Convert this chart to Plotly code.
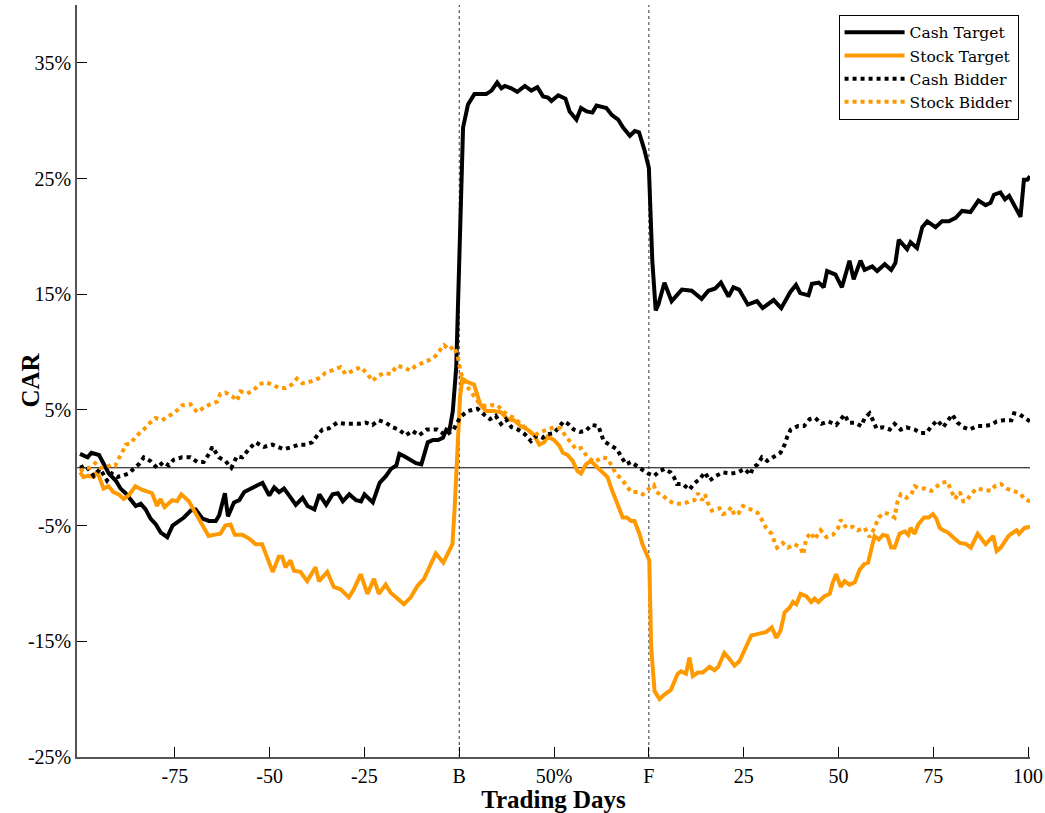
import plotly.graph_objects as go

# ---------------- data ----------------
# x positions: -100..0 = trading days before bid (B), 0..50 = 0..100% of
# time between bid and completion (F), 50..150 = 0..100 trading days after F
cash_target_day = [-100, -98, -97, -95, -93.7, -92.4, -90.6, -89.3, -88, -86.2, -85.3, -84, -82.7, -81.4,
                   -80, -78.7, -77, -75.6, -74.3, -72.6, -70.8, -69.5, -67.7, -66, -64.2, -63.3, -61.8, -61,
                   -59.4, -58, -56.7, -55, -53.2, -51.9, -50.1, -48.8, -47.5, -46.2, -44.4, -43.1, -41.3, -40,
                   -38.2, -36.9, -35.1, -33.4, -32, -30.7, -29, -27.2, -25.9, -25, -22.8, -21, -19.3, -18,
                   -16.6, -15.8, -14.5, -13.1, -11.4, -10, -8.3, -6.9, -5.6, -4.3, -3.4, -2.6, -1.7, -0.8,
                   0.3, 1.0, 2.3, 4, 7.1, 8.5, 10, 11.1, 12, 13.7, 15.3, 17.3, 19, 20.6, 22.1, 23.4, 24.3,
                   26.1, 28, 29.1, 30.9, 32.1, 33.6, 35.1, 36.2, 38.8, 40.2, 41.9, 43.2, 45, 46.3, 47.4, 48.8,
                   50, 50.9, 51.8, 52.5, 54.1, 56, 58.7, 61.3, 63.9, 65.7, 67.5, 69, 71, 72.3, 73.8, 76.1,
                   78.5, 80, 82.9, 84.9, 87.3, 88.8, 89.9, 92.1, 93, 94.8, 96.1, 97, 99.2, 100.9, 102.9, 104,
                   105.8, 106.9, 108.9, 110.2, 112.2, 113.9, 115, 115.9, 118.1, 119, 120.7, 122.1, 123.4,
                   125.6, 127.3, 129.1, 130.9, 132.6, 134.8, 136.9, 138.8, 140.1, 141, 142.7, 143.9, 145, 148,
                   148.9, 149.8, 150.5]
cash_target_car = [1.2, 0.9, 1.3, 1.1, 0.3, -0.5, -1.1, -1.8, -2.2, -2.9, -3.3, -3.1, -3.6, -4.4,
                   -4.9, -5.6, -6.0, -5.0, -4.7, -4.3, -3.7, -3.6, -4.4, -4.6, -4.6, -4.1, -2.2, -4.2,
                   -3.0, -2.8, -2.1, -1.8, -1.5, -1.3, -2.4, -1.7, -2.1, -1.8, -2.6, -3.2, -2.6, -3.3,
                   -3.6, -2.3, -3.2, -2.3, -2.2, -2.9, -2.3, -2.8, -2.9, -2.3, -3.0, -1.3, -0.7, -0.1,
                   0.2, 1.2, 1.0, 0.7, 0.4, 0.3, 2.2, 2.4, 2.4, 2.6, 3.3, 3.2, 4.9, 8.7,
                   23.0, 29.4, 31.4, 32.3, 32.3, 32.6, 33.3, 32.8, 33.0, 32.8, 32.5, 33.0, 32.6, 32.9, 32.1, 32.0, 31.7,
                   32.2, 31.9, 30.8, 30.1, 31.1, 30.8, 30.7, 31.3, 31.1, 30.5, 30.1, 29.4, 28.7, 29.1, 29.0, 27.5,
                   25.9, 17.9, 13.6, 14.1, 16.0, 14.4, 15.4, 15.3, 14.6, 15.3, 15.5, 16.0, 14.8, 15.6, 15.4, 14.1,
                   14.4, 13.8, 14.5, 13.8, 15.2, 15.8, 15.1, 14.9, 15.9, 16.0, 15.6, 17.0, 16.7, 15.6, 17.9, 16.3,
                   17.9, 17.1, 17.4, 17.0, 17.6, 17.1, 17.7, 19.7, 18.9, 19.5, 19.0, 20.8, 21.3,
                   20.8, 21.3, 21.3, 21.6, 22.2, 22.1, 23.1, 22.7, 22.9, 23.6, 23.8, 23.2, 23.5, 21.7,
                   24.9, 24.9, 25.2]

stock_target_day = [-100, -99.1, -97.8, -96.4, -95.5, -93.8, -92.5, -91.2, -89.8, -88.5, -87.2, -85.4, -83.7,
                    -81, -79.7, -78.8, -77.7, -75.7, -74.4, -73.3, -71.3, -69.6, -67.8, -66.1, -64.7, -63,
                    -61.7, -60.3, -59.2, -57.2, -55.5, -53.7, -52, -50.6, -49.2, -47.6, -46.7, -45.8, -44.5,
                    -43.6, -41.9, -40.1, -37.9, -37, -34.8, -33.1, -31.3, -29.1, -27.8, -26, -24.2, -22.5,
                    -21.2, -19.4, -18.1, -16.3, -14.6, -12.8, -11, -9.3, -7.5, -6.2, -4.2, -1.8, -1.2, -0.6,
                    0.2, 0.8, 2.2, 3.9, 5.5, 7, 9.2, 11, 12.7, 14.5, 16.2, 18, 19.8, 21.1, 22.4, 23.3, 25,
                    26.4, 27.3, 28.6, 29.9, 31.2, 32.1, 33.4, 34.7, 36.5, 38.2, 39.1, 40, 41.3, 43.1, 44.2,
                    45.3, 46.2, 47.5, 48.4, 49.7, 50.1, 50.6, 51.5, 52.8, 54.1, 55.8, 57.6, 58.5, 59.8, 60.7,
                    61.6, 62.9, 64.2, 66, 67.3, 68.3, 69.9, 71.2, 72.6, 73.9, 75.2, 77, 78.3, 79.6, 80.9,
                    82.4, 83.6, 84.7, 85.8, 87.1, 88, 88.9, 90, 91.5, 92.8, 93.7, 94.7, 96.3, 97.7, 98.5,
                    99.4, 100.6, 101.6, 102.9, 104.3, 105.6, 106.9, 107.8, 108.7, 109.5, 110.6, 111.7, 112.9,
                    113.9, 114.8, 116.1, 117.5, 118.4, 119, 120.1, 121, 122.6, 123.8, 124.9, 125.8, 126.7,
                    127.6, 128.9, 130.2, 132, 133.7, 134.9, 136.7, 138.8, 140.8, 141.7, 142.8, 144.8, 145.6,
                    147, 147.6, 149.1, 150.5]
stock_target_car = [-0.4, -0.8, -0.7, -0.8, -0.3, -1.8, -1.6, -2.1, -2.3, -2.7, -2.4, -1.6, -1.9,
                    -2.2, -3.3, -2.7, -3.4, -2.8, -2.9, -2.3, -2.9, -3.9, -4.9, -5.9, -5.8, -5.7,
                    -5.0, -4.9, -5.8, -5.8, -6.1, -6.6, -6.6, -7.7, -9.0, -7.7, -7.7, -8.6, -8.0,
                    -8.9, -9.0, -9.8, -8.6, -9.8, -9.0, -10.3, -10.5, -11.2, -10.5, -9.2, -10.9, -9.6,
                    -10.9, -10.1, -10.8, -11.3, -11.8, -11.2, -10.2, -9.6, -8.2, -7.4, -8.2, -6.6, -3.4, 0.6,
                    6.1, 7.7, 7.4, 7.2, 5.5, 4.9, 4.9, 4.8, 4.2, 4.1, 3.6, 3.3, 2.8, 2.0, 2.2, 2.7, 2.4,
                    1.9, 1.3, 1.1, 0.6, -0.3, -0.5, 0.3, 0.6, 0.0, -0.5, -0.8, -1.7, -2.7, -4.3, -4.3,
                    -4.6, -4.6, -5.7, -6.7, -7.7, -8.0, -15.5, -19.3, -20.0, -19.6, -19.2, -17.8, -17.6, -17.8, -16.4,
                    -18.0, -17.7, -17.7, -17.2, -17.5, -17.2, -16.0, -16.5, -17.1, -16.7, -15.7, -14.5, -14.4, -14.3, -14.2,
                    -13.8, -14.7, -14.1, -12.5, -12.1, -11.6, -11.8, -10.9, -11.1, -11.6, -11.3, -11.6, -11.1, -10.9, -9.9,
                    -9.2, -10.3, -9.8, -10.1, -9.9, -8.8, -8.3, -8.2, -6.9, -5.9, -6.2, -5.8, -5.9,
                    -6.9, -6.9, -5.7, -5.5, -5.8, -5.2, -5.7, -4.9, -4.3, -4.3, -4.0, -4.4, -5.2,
                    -5.4, -5.6, -6.0, -6.5, -6.6, -6.9, -5.7, -6.6, -5.9, -7.2, -6.9, -5.9, -5.7,
                    -5.4, -5.7, -5.2, -5.1]

cash_bidder_day = [-100, -98.6, -97.3, -96.4, -94.7, -92.9, -91.6, -90.2, -88.9, -87.2, -85.9, -84.5, -83.2,
                   -81.5, -79.7, -78, -76.6, -75.3, -73.1, -70.9, -69.1, -67.4, -66, -65.1, -63.4, -61.7,
                   -60.1, -58.6, -57.2, -55.5, -53.7, -51.5, -49.3, -46.3, -44, -42.3, -40.5, -38.8, -37.4,
                   -36.1, -34.4, -32.2, -30, -28.2, -26.5, -24.7, -22.9, -21.2, -19.4, -17.6, -15.9, -14.1,
                   -12.4, -10.6, -8.6, -7.1, -5.8, -3.6, -1.5, 0.3, 2.2, 3.5, 4.8, 6.5, 8.1, 9.6, 11,
                   12.3, 13.8, 15.5, 17.3, 18.9, 20.5, 22, 23.3, 25, 26.4, 27.5, 28.7, 30.2, 31.9, 33.4,
                   34.9, 36.7, 38.1, 40, 41.6, 42.8, 44, 45.3, 46.9, 48.4, 49.8, 51.4, 52.8, 54.1, 55.7,
                   56.6, 57.4, 58.9, 60.7, 61.8, 63.3, 64.8, 66, 67.7, 69.5, 71.7, 73.5, 75.2, 76.8, 77.4,
                   78.7, 79.8, 81.2, 83, 84.7, 85.8, 86.5, 87.4, 89.3, 90.9, 92.4, 93.9, 95.5, 97.4, 99.4,
                   101.6, 102.7, 104.3, 106, 106.9, 108.2, 109.1, 110, 111.7, 113.5, 114.8, 116.4, 117.9,
                   120.1, 121.7, 123.2, 124.5, 126.1, 127.6, 128.9, 130, 131.4, 132.9, 134.6, 136.4, 138.2,
                   140.2, 141.7, 143.4, 145.6, 146.3, 147.8, 149.6, 150.5]
cash_bidder_car = [0.0, 0.2, -0.3, -0.7, -0.1, -1.1, -0.5, -0.8, -0.7, -0.5, -0.1, 0.3, 0.9,
                   0.6, 0.0, 0.5, 0.2, 0.7, 0.9, 0.9, 0.5, 0.5, 1.2, 1.8, 0.9, 0.6,
                   0.0, 1.0, 0.9, 1.6, 2.2, 1.8, 2.0, 1.6, 1.8, 2.0, 2.0, 2.2, 2.8,
                   3.3, 3.4, 3.9, 3.8, 3.8, 3.8, 3.9, 3.7, 4.1, 3.9, 3.5, 3.3, 2.8,
                   3.2, 2.8, 3.3, 3.3, 3.3, 2.8, 3.3, 4.4, 4.9, 5.0, 5.1, 4.6, 4.2, 4.5, 3.8,
                   4.2, 3.5, 3.3, 2.9, 2.3, 2.8, 2.6, 2.9, 3.0, 3.5, 4.0, 3.8, 3.3, 3.1, 3.2,
                   3.7, 3.6, 2.3, 1.9, 1.6, 0.9, 0.3, 0.5, 0.1, -0.2, -0.5, -0.7, -0.3, -0.1, -0.4,
                   -0.8, -1.4, -1.4, -1.9, -1.4, -1.0, -0.4, -1.1, -0.7, -0.4, -0.5, -0.4, -0.1, -0.6, 0.0,
                   0.3, 0.9, 0.6, 1.0, 1.3, 2.0, 2.7, 3.3, 3.6, 3.6, 4.2, 4.3, 3.8, 4.0, 3.7,
                   4.6, 3.9, 3.9, 3.6, 4.3, 4.7, 4.1, 3.4, 3.5, 3.3, 3.8, 3.3, 3.5,
                   3.3, 3.0, 3.0, 3.6, 4.1, 3.5, 4.1, 4.6, 3.9, 3.5, 3.3, 3.6, 3.6,
                   3.7, 4.0, 4.1, 4.1, 4.7, 4.6, 4.2, 4.0]

stock_bidder_day = [-100, -98.6, -97.3, -96, -94.7, -93.4, -91.6, -90.7, -89.8, -88.9, -88, -86.7, -85,
                    -83.2, -81.5, -80.1, -78.4, -76.6, -74.9, -73.1, -70.9, -69.1, -67.4, -65.6, -63.9, -63,
                    -61.7, -59.9, -58.6, -57.7, -56, -54.2, -52.9, -51.1, -49.3, -47.6, -45.8, -44.1, -42.8,
                    -41.4, -39.7, -37.9, -36.6, -35.3, -33.5, -31.3, -30, -28.2, -26, -24.2, -22.9, -21.6,
                    -19.9, -18.1, -16.5, -14.7, -13, -11.5, -9.7, -8, -6.7, -5.3, -4, -2.7, -1.4, -0.5, 0.4,
                    1.7, 3, 3.9, 5.2, 7, 8.3, 10.1, 11.4, 12.7, 14.5, 16.2, 18, 19.8, 21.5, 23.3, 25, 26.8,
                    28.1, 29.4, 30.8, 32.1, 33.9, 35.6, 37.8, 39.1, 40, 41.3, 43.1, 44.4, 45.3, 47.1, 48.4,
                    50.1, 51.3, 51.9, 53.7, 55, 56.7, 58.9, 60.7, 62, 62.9, 64, 64.8, 65.5, 66.6, 68.6, 69.5,
                    70.6, 71.7, 72.6, 73.7, 74.8, 76.8, 78.7, 79.8, 80.9, 82.3, 83.1, 83.8, 85.3, 86.7, 88.4,
                    90, 90.7, 91.5, 92.8, 93.7, 95.3, 96.8, 98.5, 99.9, 100.6, 102.1, 103.8, 105.1, 106.9,
                    108.2, 109.5, 110.6, 112, 113.5, 114.8, 115.5, 116.4, 117.9, 119.2, 120.1, 121.4, 122.7,
                    124.5, 125.8, 127.1, 128.7, 129.6, 130.7, 132, 132.9, 133.7, 134.9, 136.4, 138.2, 140.2,
                    141.2, 142.8, 144.3, 146.1, 147.8, 149.1, 150.5]
stock_bidder_car = [-0.3, 0.0, 0.0, 0.4, 0.0, 0.0, 0.3, 0.2, 0.8, 1.3, 2.0, 2.1, 2.8,
                    3.3, 3.9, 4.3, 4.1, 4.5, 4.8, 5.4, 5.5, 4.8, 5.2, 5.5, 5.7, 6.4,
                    6.5, 6.2, 5.8, 6.6, 6.4, 6.7, 7.2, 7.4, 7.2, 6.9, 6.9, 7.2, 7.7,
                    7.3, 7.4, 7.6, 7.8, 8.2, 8.4, 8.7, 8.1, 8.4, 8.7, 8.1, 7.5, 7.9,
                    8.2, 8.1, 8.8, 8.7, 8.4, 8.8, 9.1, 9.3, 9.5, 10.1, 10.6, 10.2, 10.5, 9.8, 8.2,
                    7.2, 6.6, 6.1, 5.6, 5.3, 5.4, 5.4, 4.9, 4.6, 4.3, 3.8, 3.3, 2.8, 3.1, 3.3, 3.5, 3.4,
                    2.7, 2.2, 1.6, 1.7, 0.9, 0.5, 0.9, 0.8, 0.2, -0.5, -1.1, -1.7, -2.1, -2.1, -2.3,
                    -1.8, -1.5, -2.1, -2.4, -2.8, -3.1, -3.1, -2.9, -2.8, -2.2, -2.8, -2.3, -3.0, -3.7, -3.5, -4.0,
                    -3.9, -3.4, -4.1, -3.9, -3.3, -3.6, -3.9, -4.5, -5.2, -5.7, -6.4, -6.9, -6.5, -6.9, -6.6,
                    -6.9, -7.5, -6.1, -5.6, -6.2, -5.4, -6.0, -5.8, -5.2, -4.5, -5.2, -5.1, -5.4, -5.2,
                    -6.0, -5.2, -4.3, -3.9, -4.0, -4.3, -3.0, -2.3, -2.6, -2.3, -1.6, -1.8, -1.8,
                    -2.0, -1.6, -1.3, -1.2, -1.9, -2.7, -2.1, -2.9, -2.9, -2.3, -1.8, -1.9, -2.0,
                    -1.6, -1.4, -1.8, -2.0, -2.2, -2.7, -2.9]

tick_pos = [-75, -50, -25, 0, 25, 50, 75, 100, 125, 150]
tick_labels = ["-75", "-50", "-25", "B", "50%", "F", "25", "50", "75", "100"]
y_ticks = [-25, -15, -5, 5, 15, 25, 35]
y_labels = ["-25%", "-15%", "-5%", "5%", "15%", "25%", "35%"]

ORANGE = "#FF9900"
FONT = "Liberation Serif"

fig = go.Figure()
fig.add_trace(go.Scatter(x=cash_target_day, y=cash_target_car, mode="lines", name="Cash Target",
                         line=dict(color="black", width=4)))
fig.add_trace(go.Scatter(x=stock_target_day, y=stock_target_car, mode="lines", name="Stock Target",
                         line=dict(color=ORANGE, width=4)))
fig.add_trace(go.Scatter(x=cash_bidder_day, y=cash_bidder_car, mode="lines", name="Cash Bidder",
                         line=dict(color="black", width=4, dash="dot")))
fig.add_trace(go.Scatter(x=stock_bidder_day, y=stock_bidder_car, mode="lines", name="Stock Bidder",
                         line=dict(color=ORANGE, width=4, dash="dot")))

# zero line and event markers (B, F)
fig.add_shape(type="line", xref="paper", x0=0, x1=1, yref="y", y0=0, y1=0,
              line=dict(color="black", width=1), layer="below")
for xv in (0, 50):
    fig.add_shape(type="line", xref="x", x0=xv, x1=xv, yref="paper", y0=0, y1=1,
                  line=dict(color="#333333", width=1, dash="dot"), layer="below")

# y-axis title placed as an annotation (closer to the axis than a standoff allows)
fig.add_annotation(text="<b>CAR</b>", xref="paper", yref="paper", x=-0.049, y=0.501,
                   textangle=-90, showarrow=False, xanchor="center", yanchor="middle",
                   font=dict(family=FONT, size=25, color="black"))

fig.update_layout(
    width=1045, height=813,
    margin=dict(l=77, r=15, t=5, b=56, autoexpand=False),
    paper_bgcolor="white", plot_bgcolor="white",
    font=dict(family=FONT, size=19, color="black"),
    showlegend=True,
    legend=dict(x=0.988, y=0.987, xanchor="right", yanchor="top",
                bgcolor="white", bordercolor="black", borderwidth=1,
                font=dict(family="DejaVu Serif", size=15.5, color="black"),
                itemwidth=60, tracegroupgap=0),
    xaxis=dict(range=[-100.8, 150.5], tickmode="array", tickvals=tick_pos, ticktext=tick_labels,
               ticks="inside", ticklen=10, tickwidth=1, tickcolor="black",
               showline=True, linecolor="#555555", linewidth=1.5, mirror=False,
               showgrid=False, zeroline=False, automargin=False,
               tickfont=dict(family=FONT, size=20, color="black"),
               title=dict(text="<b>Trading Days</b>", font=dict(family=FONT, size=25, color="black"),
                          standoff=2)),
    yaxis=dict(range=[-25, 40], tickmode="array", tickvals=y_ticks, ticktext=y_labels,
               ticks="inside", ticklen=10, tickwidth=1, tickcolor="black",
               showline=True, linecolor="#555555", linewidth=1.5, mirror=False,
               showgrid=False, zeroline=False, automargin=False,
               tickfont=dict(family=FONT, size=20, color="black")),
)

fig.write_html("out.html", config={"displayModeBar": False},
               post_script="document.body.style.margin='0px';")
